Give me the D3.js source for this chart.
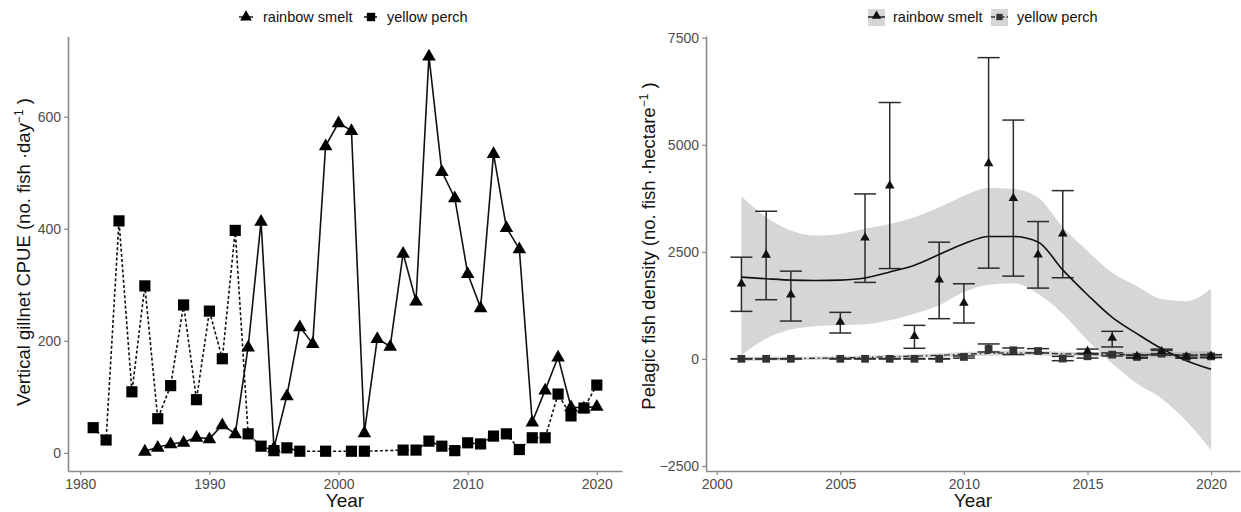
<!DOCTYPE html>
<html>
<head>
<meta charset="utf-8">
<script src="https://cdn.jsdelivr.net/npm/d3@7"></script>
<style>
  html, body { margin: 0; padding: 0; background: #fff; }
  svg text { font-family: "Liberation Sans", Arial, sans-serif; }
</style>
</head>
<body>
<svg id="chart" width="1241" height="512"></svg>
<script>
// ---- Vertical gillnet CPUE (left panel) ----
const smeltYears = [1985,1986,1987,1988,1989,1990,1991,1992,1993,1994,1995,1996,1997,1998,1999,2000,
  2001,2002,2003,2004,2005,2006,2007,2008,2009,2010,2011,2012,2013,2014,2015,2016,2017,2018,2019,2020];
const smeltCpue = [3,10,16,19,28,25,50,34,189,413,9,102,225,195,548,589,
  575,36,204,190,356,271,708,502,455,320,259,534,402,364,55,112,171,82,80,83];

const perchYears = [1981,1982,1983,1984,1985,1986,1987,1988,1989,1990,1991,1992,1993,1994,1995,1996,1997,
  1999,2001,2002,2005,2006,2007,2008,2009,2010,2011,2012,2013,2014,2015,2016,2017,2018,2019,2020];
const perchCpue = [45,23,414,109,298,61,120,264,95,253,168,397,34,12,4,9,3,
  3,3,3,5,5,21,12,4,18,16,30,34,6,27,27,105,66,80,121];

const cpueXTicks = [1980,1990,2000,2010,2020];
const cpueYTicks = [0,200,400,600];

// ---- Pelagic fish density (right panel) ----
const densYears = [2001,2002,2003,2005,2006,2007,2008,2009,2010,2011,2012,2013,2014,2015,2016,2017,2018,2019,2020];
const smeltDens = [1756,2430,1500,862,2828,4046,529,1849,1305,4566,3751,2431,2921,180,490,60,180,50,70];
const smeltLo   = [1111,1383,885,606,1787,2110,249,940,839,2120,1934,1654,1896,130,280,30,120,20,40];
const smeltHi   = [2376,3448,2050,1088,3853,5987,785,2726,1756,7035,5577,3208,3930,230,645,90,230,80,100];
const perchDens = [3,3,3,3,3,3,3,3,47,233,203,186,9,62,101,47,124,47,60];
const perchLo   = [0,0,0,0,0,0,0,0,20,163,102,140,-40,20,70,20,90,20,30];
const perchHi   = [8,8,8,8,8,8,8,8,70,350,256,241,60,120,140,80,200,80,100];

// loess fits with 95% bands
const fitYears = [2001,2002,2003,2004,2005,2006,2007,2008,2009,2010,2011,2012,2013,2014,2015,2016,2017,2018,2019,2020];
const smeltFit = [1910,1873,1840,1830,1840,1890,2030,2190,2440,2690,2860,2860,2730,2080,1500,970,590,240,-40,-240];
const smeltFitHi = [3790,3308,3000,2880,2920,3040,3150,3310,3540,3810,3990,3970,3770,3080,2520,2010,1700,1400,1350,1640];
const smeltFitLo = [86,475,685,762,785,808,901,1057,1251,1561,1733,1770,1523,1057,436,-107,-573,-922,-1450,-2127];
const perchFit = [0,5,10,15,25,35,50,65,85,110,130,140,135,120,105,100,100,100,95,90];
const perchFitHi = [60,50,50,55,65,75,90,105,130,160,185,195,190,170,155,150,155,160,170,190];
const perchFitLo = [-60,-40,-30,-25,-15,-5,10,25,40,60,75,85,80,70,55,50,45,40,20,-10];

const densXTicks = [2000,2005,2010,2015,2020];
const densYTicks = [-2500,0,2500,5000,7500];

const seriesNames = ["rainbow smelt","yellow perch"];

const svg = d3.select("#chart");
const axisGrey = "#8a8a8a";
const labelGrey = "#4d4d4d";

function drawAxes(g, x, y, xt, yt, box) {
  const xa = g.append("g").attr("transform", `translate(0,${box.bottom})`)
    .call(d3.axisBottom(x).tickValues(xt).tickSize(4).tickSizeOuter(0).tickFormat(d3.format("d")).tickPadding(4));
  const ya = g.append("g").attr("transform", `translate(${box.left},0)`)
    .call(d3.axisLeft(y).tickValues(yt).tickSize(4).tickSizeOuter(0).tickFormat(d3.format("d")).tickPadding(3));
  [xa, ya].forEach(a => {
    a.select(".domain").attr("stroke", axisGrey).attr("stroke-width", 1.6);
    a.selectAll(".tick line").attr("stroke", axisGrey).attr("stroke-width", 1.2);
    a.selectAll(".tick text").attr("fill", labelGrey).style("font-size", "14px")
      .style("font-family", "'Liberation Sans', Arial, sans-serif");
  });
}

// ===================== Left panel =====================
(function () {
  const box = {left: 68, right: 622, top: 36.5, bottom: 471};
  const x = d3.scaleLinear().domain([1979.05, 2021.95]).range([box.left, box.right]);
  const y = d3.scaleLinear().domain([-32.3, 743]).range([box.bottom, box.top]);
  const g = svg.append("g");
  drawAxes(g, x, y, cpueXTicks, cpueYTicks, box);

  const lineSmelt = d3.line().x((d, i) => x(smeltYears[i])).y(d => y(d));
  const linePerch = d3.line().x((d, i) => x(perchYears[i])).y(d => y(d));

  g.append("path").datum(perchCpue).attr("d", linePerch)
    .attr("fill", "none").attr("stroke", "#111").attr("stroke-width", 1.6).attr("stroke-dasharray", "3,2.2");
  g.append("path").datum(smeltCpue).attr("d", lineSmelt)
    .attr("fill", "none").attr("stroke", "#111").attr("stroke-width", 1.6);

  const tri = d3.symbol().type(d3.symbolTriangle).size(80);
  const sq = d3.symbol().type(d3.symbolSquare).size(125);
  g.selectAll(".sq").data(perchCpue).join("path")
    .attr("transform", (d, i) => `translate(${x(perchYears[i])},${y(d)})`).attr("d", sq).attr("fill", "#000");
  g.selectAll(".tri").data(smeltCpue).join("path")
    .attr("transform", (d, i) => `translate(${x(smeltYears[i])},${y(d) + 0.5})`).attr("d", tri).attr("fill", "#000");

  // axis titles
  g.append("text").attr("x", (box.left + box.right) / 2).attr("y", 507).attr("text-anchor", "middle")
    .style("font-size", "19px").attr("fill", "#111").text("Year");
  const yt = g.append("text").attr("transform", "translate(30,252) rotate(-90)").attr("text-anchor", "middle")
    .style("font-size", "18.5px").attr("fill", "#111");
  yt.append("tspan").text("Vertical gillnet CPUE (no. fish ·day");
  yt.append("tspan").attr("dy", -7).style("font-size", "12px").text("−1");
  yt.append("tspan").attr("dy", 7).text(" )");

  // legend
  const lg = g.append("g");
  const ky = 17;
  lg.append("line").attr("x1", 239).attr("x2", 253).attr("y1", ky).attr("y2", ky).attr("stroke", "#111").attr("stroke-width", 1.4);
  lg.append("path").attr("transform", `translate(246,${ky})`).attr("d", d3.symbol().type(d3.symbolTriangle).size(60)).attr("fill", "#000");
  lg.append("text").attr("x", 263).attr("y", ky + 5).style("font-size", "14.5px").attr("fill", "#111").text(seriesNames[0]);
  lg.append("line").attr("x1", 364).attr("x2", 378).attr("y1", ky).attr("y2", ky).attr("stroke", "#111").attr("stroke-width", 1.4).attr("stroke-dasharray", "3,2");
  lg.append("path").attr("transform", `translate(371,${ky})`).attr("d", d3.symbol().type(d3.symbolSquare).size(70)).attr("fill", "#000");
  lg.append("text").attr("x", 387).attr("y", ky + 5).style("font-size", "14.5px").attr("fill", "#111").text(seriesNames[1]);
})();

// ===================== Right panel =====================
(function () {
  const box = {left: 706, right: 1240, top: 36, bottom: 471};
  const x = d3.scaleLinear().domain([1999.567, 2021.17]).range([box.left, box.right]);
  const y = d3.scaleLinear().domain([-2616, 7540]).range([box.bottom, box.top]);
  const g = svg.append("g");

  const area = (lo, hi) => d3.area().curve(d3.curveMonotoneX)
    .x((d, i) => x(fitYears[i])).y0((d, i) => y(lo[i])).y1((d, i) => y(hi[i]));
  const fitLine = d3.line().curve(d3.curveMonotoneX).x((d, i) => x(fitYears[i])).y(d => y(d));

  g.append("path").datum(smeltFit).attr("d", area(smeltFitLo, smeltFitHi)).attr("fill", "#999").attr("fill-opacity", 0.4);
  g.append("path").datum(perchFit).attr("d", area(perchFitLo, perchFitHi)).attr("fill", "#999").attr("fill-opacity", 0.4);

  drawAxes(g, x, y, densXTicks, densYTicks, box);

  const cap = 11;
  function errorBars(lo, hi) {
    const eb = g.append("g").attr("stroke", "#2b2b2b").attr("stroke-width", 1.5);
    densYears.forEach((yr, i) => {
      const cx = x(yr);
      eb.append("line").attr("x1", cx).attr("x2", cx).attr("y1", y(lo[i])).attr("y2", y(hi[i]));
      eb.append("line").attr("x1", cx - cap).attr("x2", cx + cap).attr("y1", y(lo[i])).attr("y2", y(lo[i]));
      eb.append("line").attr("x1", cx - cap).attr("x2", cx + cap).attr("y1", y(hi[i])).attr("y2", y(hi[i]));
    });
  }
  errorBars(perchLo, perchHi);
  errorBars(smeltLo, smeltHi);

  g.append("path").datum(perchFit).attr("d", fitLine).attr("fill", "none")
    .attr("stroke", "#333").attr("stroke-width", 1.4).attr("stroke-dasharray", "6,3,1.5,3");
  g.append("path").datum(smeltFit).attr("d", fitLine).attr("fill", "none")
    .attr("stroke", "#111").attr("stroke-width", 1.6);

  const tri = d3.symbol().type(d3.symbolTriangle).size(40);
  const sq = d3.symbol().type(d3.symbolSquare).size(60);
  g.selectAll(".sq").data(perchDens).join("path")
    .attr("transform", (d, i) => `translate(${x(densYears[i])},${y(d)})`).attr("d", sq).attr("fill", "#333");
  g.selectAll(".tri").data(smeltDens).join("path")
    .attr("transform", (d, i) => `translate(${x(densYears[i])},${y(d)})`).attr("d", tri).attr("fill", "#111");

  g.append("text").attr("x", (box.left + box.right) / 2).attr("y", 507).attr("text-anchor", "middle")
    .style("font-size", "19px").attr("fill", "#111").text("Year");
  const yt = g.append("text").attr("transform", "translate(655,246) rotate(-90)").attr("text-anchor", "middle")
    .style("font-size", "18.5px").attr("fill", "#111");
  yt.append("tspan").text("Pelagic fish density (no. fish ·hectare");
  yt.append("tspan").attr("dy", -7).style("font-size", "12px").text("−1");
  yt.append("tspan").attr("dy", 7).text(" )");

  // legend
  const lg = g.append("g");
  const ky = 17;
  lg.append("rect").attr("x", 868).attr("y", ky - 8).attr("width", 17).attr("height", 17).attr("fill", "#d6d6d6");
  lg.append("line").attr("x1", 868).attr("x2", 885).attr("y1", ky).attr("y2", ky).attr("stroke", "#111").attr("stroke-width", 1.4);
  lg.append("path").attr("transform", `translate(876.5,${ky - 1})`).attr("d", d3.symbol().type(d3.symbolTriangle).size(38)).attr("fill", "#111");
  lg.append("text").attr("x", 893).attr("y", ky + 5).style("font-size", "14.5px").attr("fill", "#111").text(seriesNames[0]);
  lg.append("rect").attr("x", 991).attr("y", ky - 8).attr("width", 17).attr("height", 17).attr("fill", "#d6d6d6");
  lg.append("line").attr("x1", 991).attr("x2", 1008).attr("y1", ky).attr("y2", ky).attr("stroke", "#333").attr("stroke-width", 1.4).attr("stroke-dasharray", "4,2,1.5,2");
  lg.append("path").attr("transform", `translate(999.5,${ky})`).attr("d", d3.symbol().type(d3.symbolSquare).size(40)).attr("fill", "#333");
  lg.append("text").attr("x", 1017).attr("y", ky + 5).style("font-size", "14.5px").attr("fill", "#111").text(seriesNames[1]);
})();
</script>
</body>
</html>
